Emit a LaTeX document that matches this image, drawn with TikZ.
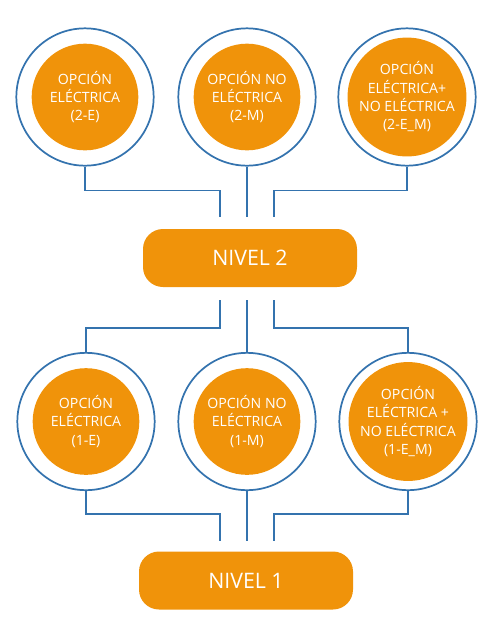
\documentclass[tikz,border=0pt]{standalone}
\usepackage{fontspec}
\setmainfont{Open Sans}
\definecolor{naranja}{RGB}{240,147,10}
\definecolor{azul}{RGB}{52,115,174}
\tikzset{
  anillo/.style={circle,draw=azul,line width=1.3pt,minimum size=103pt,inner sep=0pt},
  opcion/.style={circle,fill=naranja,minimum size=80pt,inner sep=0pt,text=white,align=center,
    font=\fontsize{10.6}{13.75}\selectfont},
  nivel/.style={rounded corners=15pt,fill=naranja,minimum width=160.5pt,minimum height=43.5pt,
    text=white,font=\fontsize{16}{19}\selectfont},
  enlace/.style={draw=azul,line width=1.3pt},
}
\begin{document}
\begin{tikzpicture}[x=0.75pt,y=0.75pt,yscale=-1,xscale=1]
\useasboundingbox (0,0) rectangle (500,637);

%Nivel 2 options
\node [anillo] (e2r) at (85,97) {};
\node [opcion] (e2) at (85,97) {OPCIÓN\\ELÉCTRICA\\(2-E)};
\node [anillo] (m2r) at (247,97) {};
\node [opcion] (m2) at (247,97) {OPCIÓN NO\\ELÉCTRICA\\(2-M)};
\node [anillo] (em2r) at (407,97) {};
\node [opcion] (em2) at (407,97) {OPCIÓN\\ELÉCTRICA+\\NO ELÉCTRICA\\(2-E\_M)};

% Nivel 2 box
\node [nivel] (n2) at (250,258) {NIVEL 2};
\coordinate (n2a) at (220,217);
\coordinate (n2b) at (247,217);
\coordinate (n2c) at (274,217);
\coordinate (n2d) at (220,300);
\coordinate (n2e) at (247,300);
\coordinate (n2f) at (274,300);

%Nivel 1 options
\node [anillo] (e1r) at (86,421.5) {};
\node [opcion] (e1) at (86,421.5) {OPCIÓN\\ELÉCTRICA\\(1-E)};
\node [anillo] (m1r) at (247,421.5) {};
\node [opcion] (m1) at (247,421.5) {OPCIÓN NO\\ELÉCTRICA\\(1-M)};
\node [anillo] (em1r) at (408,421.5) {};
\node [opcion] (em1) at (408,421.5) {OPCIÓN\\ELÉCTRICA +\\NO ELÉCTRICA\\(1-E\_M)};

% Nivel 1 box
\node [nivel] (n1) at (246,580.5) {NIVEL 1};
\coordinate (n1a) at (220,541);
\coordinate (n1b) at (247,541);
\coordinate (n1c) at (274,541);

%Lines to nivel 2
\draw [enlace] (e2r.south) -- ++(0,24) -| (n2a);
\draw [enlace] (m2r.south) -- (n2b);
\draw [enlace] (em2r.south) -- ++(0,24) -| (n2c);
%Lines from nivel 2
\draw [enlace] (n2d) |- ++(0,28) -| (e1r.north);
\draw [enlace] (n2e) -- (m1r.north);
\draw [enlace] (n2f) |- ++(0,28) -| (em1r.north);
%Lines to nivel 1
\draw [enlace] (e1r.south) -- ++(0,23) -| (n1a);
\draw [enlace] (m1r.south) -- (n1b);
\draw [enlace] (em1r.south) -- ++(0,23) -| (n1c);

\end{tikzpicture}
\end{document}
